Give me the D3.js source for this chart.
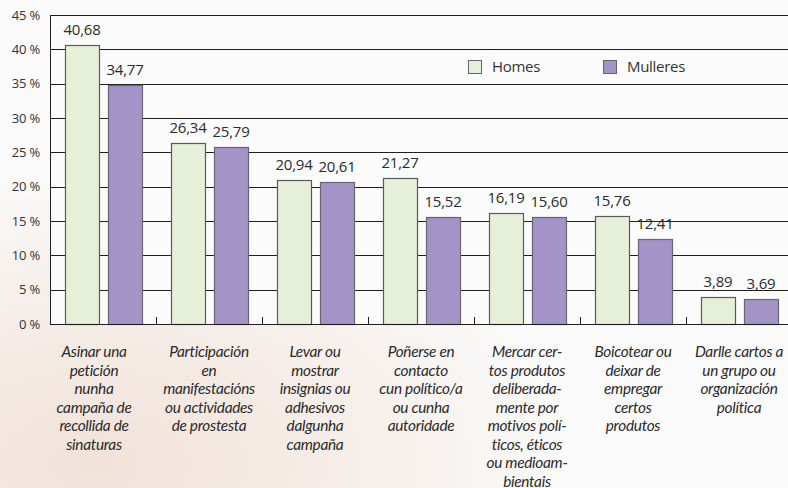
<!DOCTYPE html>
<html><head><meta charset="utf-8">
<script src="https://cdn.jsdelivr.net/npm/d3@7"></script>
<style>
html,body{margin:0;padding:0;background:#fafafa;}
svg{display:block;}
</style></head>
<body>
<svg id="chart" width="788" height="488"></svg>
<script>
const categories = [
  ["Asinar una","petición","nunha","campaña de","recollida de","sinaturas"],
  ["Participación","en","manifestacións","ou actividades","de prostesta"],
  ["Levar ou","mostrar","insignias ou","adhesivos","dalgunha","campaña"],
  ["Poñerse en","contacto","cun político/a","ou cunha","autoridade"],
  ["Mercar cer-","tos produtos","deliberada-","mente por","motivos polí-","ticos, éticos","ou medioam-","bientais"],
  ["Boicotear ou","deixar de","empregar","certos","produtos"],
  ["Darlle cartos a","un grupo ou","organización","política"]
];
const series = ["Homes","Mulleres"];
const homes    = [40.68, 26.34, 20.94, 21.27, 16.19, 15.76, 3.89];
const mulleres = [34.77, 25.79, 20.61, 15.52, 15.60, 12.41, 3.69];
const homesLabels    = ["40,68","26,34","20,94","21,27","16,19","15,76","3,89"];
const mulleresLabels = ["34,77","25,79","20,61","15,52","15,60","12,41","3,69"];
const yTicks = [0,5,10,15,20,25,30,35,40,45];
const yTickLabels = ["0 %","5 %","10 %","15 %","20 %","25 %","30 %","35 %","40 %","45 %"];

(function(){
const colors = {Homes:"#e6efd8", Mulleres:"#a493c7"};
const strokes = {Homes:"#5a5a5a", Mulleres:"#6a6470"};

const svg = d3.select("#chart");
const W = 788, H = 488;
const mLeft = 50, mRight = 792, mTop = 15, mBottom = 324;

const defs = svg.append("defs");
const rg = defs.append("radialGradient").attr("id","bgGrad").attr("cx","0.12").attr("cy","0.95").attr("r","0.6");
rg.append("stop").attr("offset","0%").attr("stop-color","#f1e2da");
rg.append("stop").attr("offset","60%").attr("stop-color","#f6efea");
rg.append("stop").attr("offset","100%").attr("stop-color","#fafafa");
svg.append("rect").attr("width",W).attr("height",H).attr("fill","url(#bgGrad)");
svg.append("rect").attr("x",mLeft).attr("y",mTop).attr("width",mRight-mLeft).attr("height",mBottom-mTop).attr("fill","#fbfbfb");

const idx = d3.range(categories.length);
const x0 = d3.scaleBand().domain(idx).range([mLeft, mRight]).padding(0);
const x1 = d3.scaleBand().domain(series).range([15, 92]).paddingInner(0.2093);
const y = d3.scaleLinear().domain([0,45]).range([mBottom, mTop]);

svg.append("g").selectAll("line").data(yTicks).join("line")
  .attr("x1", mLeft).attr("x2", W).attr("y1", d=>Math.round(y(d))+0.5).attr("y2", d=>Math.round(y(d))+0.5)
  .attr("stroke","#1e1e1e").attr("stroke-width",1);

svg.append("line").attr("x1",mLeft+0.5).attr("x2",mLeft+0.5).attr("y1",mTop).attr("y2",mBottom+1)
  .attr("stroke","#1e1e1e").attr("stroke-width",1);

svg.append("g").selectAll("text").data(yTicks).join("text")
  .attr("x", 40).attr("y", d=>y(d)).attr("dy","0.35em")
  .attr("text-anchor","end")
  .attr("font-family","'Open Sans', sans-serif").attr("font-size",13).attr("fill","#333")
  .attr("letter-spacing","-0.2")
  .text((d,i)=>yTickLabels[i]);

svg.append("g").selectAll("line").data(idx.slice(1)).join("line")
  .attr("x1", d=>Math.round(x0(d))+0.5).attr("x2", d=>Math.round(x0(d))+0.5)
  .attr("y1", mBottom-7).attr("y2", mBottom)
  .attr("stroke","#1e1e1e").attr("stroke-width",1);

const data = idx.map(i=>({i, vals:[{s:"Homes",v:homes[i],l:homesLabels[i]},{s:"Mulleres",v:mulleres[i],l:mulleresLabels[i]}]}));
const groups = svg.append("g").selectAll("g").data(data).join("g")
  .attr("transform", d=>`translate(${x0(d.i)},0)`);
groups.selectAll("rect").data(d=>d.vals).join("rect")
  .attr("x", d=>Math.round(x1(d.s))+0.5).attr("width", Math.round(x1.bandwidth()))
  .attr("y", d=>Math.round(y(d.v))+0.5).attr("height", d=>mBottom - Math.round(y(d.v)))
  .attr("fill", d=>colors[d.s]).attr("stroke", d=>strokes[d.s]).attr("stroke-width",1.2);
groups.selectAll("text").data(d=>d.vals).join("text")
  .attr("x", d=>x1(d.s)+x1.bandwidth()/2).attr("y", d=>y(d.v)-10)
  .attr("text-anchor","middle")
  .attr("font-family","'Open Sans', sans-serif").attr("font-size",15).attr("fill","#2b2b2b")
  .attr("letter-spacing","-0.2")
  .text(d=>d.l);

svg.append("line").attr("x1",mLeft).attr("x2",W).attr("y1",mBottom+0.5).attr("y2",mBottom+0.5)
  .attr("stroke","#1e1e1e").attr("stroke-width",1.2);

const cx = d => x0(d)+x0.bandwidth()/2 - (d===0?9:0);
const cl = svg.append("g").selectAll("text").data(idx).join("text")
  .attr("x", cx).attr("y", 357)
  .attr("text-anchor","middle")
  .attr("font-family","Lato, sans-serif").attr("font-style","italic")
  .attr("font-size",15.4).attr("letter-spacing","-0.3").attr("fill","#2a2a2a");
cl.selectAll("tspan").data(d=>categories[d].map((t,j)=>({t,j,d}))).join("tspan")
  .attr("x", d=>cx(d.d))
  .attr("y", d=>357 + d.j*18.5)
  .text(d=>d.t);

const legendX = [468, 603];
const lg = svg.append("g").selectAll("g").data(series).join("g")
  .attr("transform",(d,i)=>`translate(${legendX[i]},60)`);
lg.append("rect").attr("x",0.5).attr("y",0.5).attr("width",13).attr("height",13)
  .attr("fill", d=>colors[d]).attr("stroke", "#666").attr("stroke-width",1);
lg.append("text").attr("x",24).attr("y",12)
  .attr("font-family","'Open Sans', sans-serif").attr("font-size",15).attr("fill","#333")
  .attr("letter-spacing","-0.3")
  .text(d=>d);
})();
</script>
</body></html>
